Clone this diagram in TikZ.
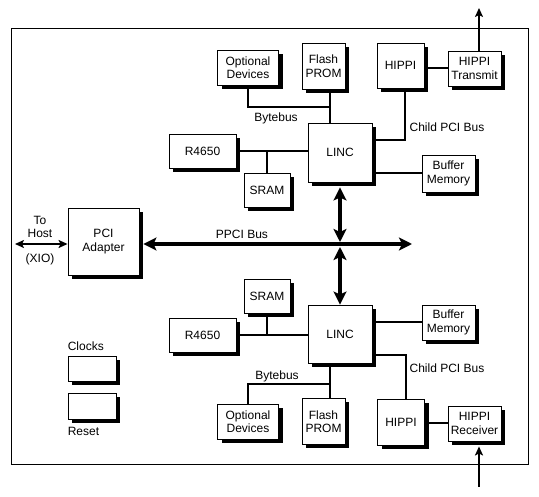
\documentclass[tikz,border=0pt]{standalone}
\usepackage{fontspec}
\setmainfont{Liberation Sans}
\usetikzlibrary{arrows.meta,shadows}

\tikzset{
  bigtip/.tip={Stealth[length=13pt,width=13pt,inset=3pt]},
  smalltip/.tip={Stealth[length=9pt,width=8pt,inset=2pt]}
}

\begin{document}
\begin{tikzpicture}[x=1pt, y=-1pt,
  every node/.style={font=\fontsize{12}{13.5}\selectfont, align=center, inner sep=0pt},
  blk/.style 2 args={draw, fill=white, line width=0.9pt, minimum width=#1pt, minimum height=#2pt,
    drop shadow={shadow xshift=4pt, shadow yshift=-4pt, fill=black, opacity=1}},
  wire/.style={line width=2pt},
  bus/.style={line width=4pt, {bigtip}-{bigtip}},
  link/.style={line width=2pt, -{smalltip}}]
\useasboundingbox (0,0) rectangle (539,497);
\draw[line width=0.9pt] (11,28) rectangle (528,464);

\node[blk={61}{35}] (optT) at (248,67.5) {Optional\\Devices};
\node[blk={43}{46}] (flashT) at (323.5,66) {Flash\\PROM};
\node[blk={47}{45}] (hippiT) at (400.5,65.5) {HIPPI};
\node[blk={53}{35}] (xmit) at (474.5,68.5) {HIPPI\\Transmit};
\node[blk={67}{34}] (r4650T) at (202.5,151) {R4650};
\node[blk={46}{34}] (sramT) at (267,190) {SRAM};
\node[blk={64}{59}] (lincT) at (340,152.5) {LINC};
\node[blk={53}{37}] (bufT) at (448.5,173.5) {Buffer\\Memory};

\node[blk={71}{67}] (pci) at (103.5,241.5) {PCI\\Adapter};

\node[blk={46}{34}] (sramB) at (267,296) {SRAM};
\node[blk={67}{34}] (r4650B) at (202.5,335) {R4650};
\node[blk={64}{58}] (lincB) at (340,334) {LINC};
\node[blk={53}{35}] (bufB) at (448.5,322.5) {Buffer\\Memory};
\node[blk={61}{35}] (optB) at (248,421.5) {Optional\\Devices};
\node[blk={43}{46}] (flashB) at (323.5,421.5) {Flash\\PROM};
\node[blk={47}{46}] (hippiB) at (401,422) {HIPPI};
\node[blk={53}{35}] (recv) at (474.5,423.5) {HIPPI\\Receiver};

\node[blk={48}{25}] (clocks) at (92,368.5) {};
\node[blk={48}{26}] (reset) at (92,406) {};
\node[anchor=base west] (clocksLbl) at ([yshift=5.5pt]clocks.north west) {Clocks};
\node[anchor=base west] (resetLbl) at ([yshift=-16.5pt]reset.south west) {Reset};

\coordinate (byteT) at (330,107);
\coordinate (byteB) at (330,384);
\coordinate (hub) at (340,244);
\coordinate (busR) at (412,244);
\coordinate (busL) at ([xshift=4pt]pci.east);
\coordinate (host) at (15,244);
\coordinate (outT) at (479,8);
\coordinate (inB) at (479,487);
\coordinate (recvIn) at ([yshift=-5pt]recv.south);

\draw[wire] (optT.south) |- (byteT);
\draw[wire] (flashT.south -| byteT) -- (lincT.north -| byteT);
\draw[wire] (r4650T.east) -- (r4650T.east -| lincT.west);
\draw[wire] (sramT.north) -- (sramT.north |- r4650T.east);
\draw[wire] (bufT.west) -- (bufT.west -| lincT.east);
\draw[wire] ([yshift=12pt]lincT.east) -| ([xshift=4.5pt]hippiT.south);
\draw[wire] (xmit.west) -- (xmit.west -| hippiT.east);
\draw[link] (xmit.north -| outT) -- (outT);

\draw[wire] (optB.north) |- (byteB);
\draw[wire] (lincB.south -| byteB) -- (flashB.north -| byteB);
\draw[wire] (r4650B.east) -- (r4650B.east -| lincB.west);
\draw[wire] (sramB.south) -- (sramB.south |- r4650B.east);
\draw[wire] (bufB.west) -- (bufB.west -| lincB.east);
\draw[wire] ([yshift=-21pt]lincB.east) -| ([xshift=4.5pt]hippiB.north);
\draw[wire] (recv.west) -- (recv.west -| hippiB.east);
\draw[link] (inB) -- (inB |- recvIn);

\draw[bus] (busL |- hub) -- (busR);
\draw[bus] ([yshift=-5pt]lincT.south) -- ([yshift=2pt]hub);
\draw[bus] ([yshift=-3pt]hub) -- (lincB.north);
\draw[line width=2pt, {smalltip}-{smalltip}] (host) -- (pci.west |- host);

\node (bytebusT) at (276,118) {Bytebus};
\node (bytebusB) at (277,376) {Bytebus};
\node (childT) at (447,127) {Child PCI Bus};
\node (childB) at (447,368) {Child PCI Bus};
\node (ppci) at (242,234) {PPCI Bus};
\node (hostTop) at (40,227) {To\\Host};
\node (hostBot) at (40,259) {(XIO)};
\end{tikzpicture}
\end{document}
